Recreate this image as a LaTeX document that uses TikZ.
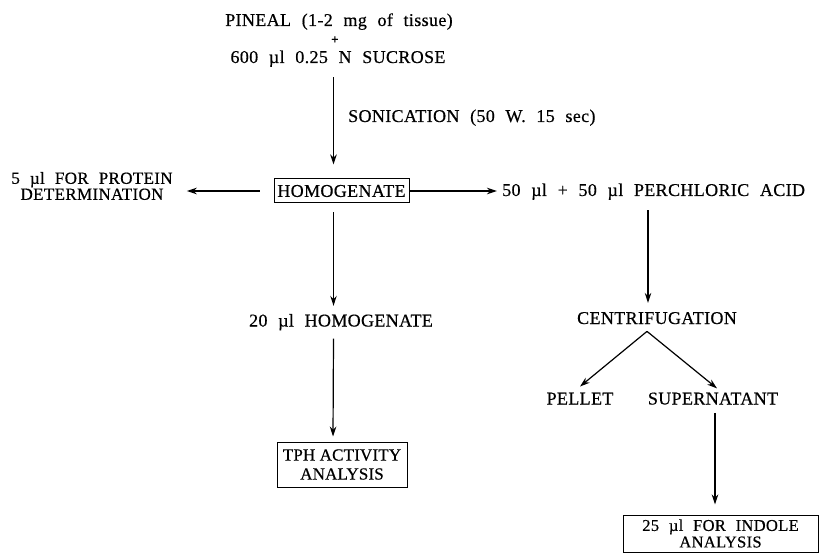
\documentclass[tikz,border=0pt]{standalone}
\usepackage{fontspec}
\setmainfont{Liberation Serif}[WordSpace=2.2,LetterSpace=2.0,FakeBold=0.5]
\newfontfamily\boxfont{Liberation Serif}[LetterSpace=1.0,FakeBold=0.5]
\usetikzlibrary{arrows.meta}
\begin{document}
\begin{tikzpicture}[x=1pt,y=-1pt,
  every node/.style={font=\fontsize{18}{18}\selectfont, inner sep=0pt},
  arr/.style={-{Stealth[length=10pt,width=6.5pt]}, line width=1.2pt},
  box/.style={draw, line width=1pt, align=center}]
\useasboundingbox (0,0) rectangle (821,553);
\node[anchor=base] (pineal) at (339,26) {PINEAL (1-2 mg of tissue)};
\node (plus) at (335,40) {\fontsize{13}{13}\selectfont\textbf{+}};
\node[anchor=base] (sucrose) at (338,63) {600 µl 0.25 N SUCROSE};
\node[anchor=base west] (sonic) at (348,122) {SONICATION (50 W. 15 sec)};
\node[box, minimum width=135pt, minimum height=24pt] (homog) at (341.5,191) {HOMOGENATE};
\node[align=center, font=\fontsize{17}{16}\selectfont] (protein) at (92,186) {5 µl FOR PROTEIN\\DETERMINATION};
\node[anchor=base west] (perchl) at (502,196) {50 µl + 50 µl PERCHLORIC ACID};
\node[anchor=base] (h20) at (341,326.5) {20 µl HOMOGENATE};
\node[box, minimum width=130pt, minimum height=45pt, font=\boxfont\fontsize{17}{19}\selectfont] (tph) at (342,464.5) {TPH ACTIVITY\\ANALYSIS};
\node[anchor=base] (centri) at (657,324) {CENTRIFUGATION};
\node[anchor=base] (pellet) at (580,404.5) {PELLET};
\node[anchor=base] (super) at (713,404.5) {SUPERNATANT};
\node[box, minimum width=195pt, minimum height=37pt, font=\fontsize{16.5}{16.5}\selectfont] (indole) at (720.5,533.5) {25 µl FOR INDOLE\\ANALYSIS};
\coordinate (apex) at ([xshift=-10pt,yshift=-7pt]centri.south);
\draw[arr] ([xshift=-8pt,yshift=-10pt]homog.north |- sucrose.south) -- ([xshift=-8pt,yshift=14pt]homog.north);
\draw[arr] ([xshift=-14pt]homog.west) -- ([xshift=14pt]homog.west -| protein.east);
\draw[arr] (homog.east) -- ([xshift=-5pt]perchl.west |- homog.east);
\draw[arr] ([xshift=-8pt,yshift=-9pt]homog.south) -- ([xshift=-8pt,yshift=8pt]homog.south |- h20.north);
\draw[arr] ([xshift=-8pt,yshift=-8pt]homog.south |- h20.south) -- ([xshift=-9pt,yshift=5pt]tph.north);
\draw[arr] ([xshift=-9pt,yshift=-10pt]centri.north |- perchl.south) -- ([xshift=-9pt,yshift=9pt]centri.north);
\draw[arr] (apex) -- ([yshift=6pt]pellet.north);
\draw[arr] (apex) -- ([xshift=4pt,yshift=4pt]super.north);
\draw[arr] ([xshift=2pt,yshift=-8pt]super.south) -- ([xshift=-5.5pt,yshift=10pt]indole.north);
\end{tikzpicture}
\end{document}
